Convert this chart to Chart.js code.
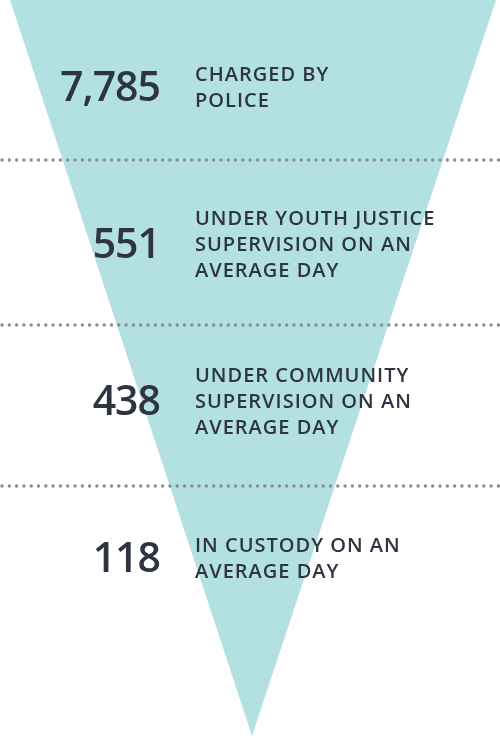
<!DOCTYPE html>
<html>
<head>
<meta charset="utf-8">
<script src="https://cdn.jsdelivr.net/npm/chart.js@4"></script>
<style>
  html, body { margin: 0; padding: 0; background: #fff; }
  #wrap { width: 500px; height: 740px; }
</style>
</head>
<body>
<div id="wrap"><canvas id="funnel"></canvas></div>
<script>
// ---- Data ----
const stageValues = [7785, 551, 438, 118];
const stageLabels = [
  ['CHARGED BY', 'POLICE'],
  ['UNDER YOUTH JUSTICE', 'SUPERVISION ON AN', 'AVERAGE DAY'],
  ['UNDER COMMUNITY', 'SUPERVISION ON AN', 'AVERAGE DAY'],
  ['IN CUSTODY ON AN', 'AVERAGE DAY']
];

// ---- Styles ----
const FILL = '#b3e0e3';
const INK = '#2e3440';
const DOT = '#8c8c8c';

// funnel shape + text drawn in the scale space (x 0..500, y 0..740)
const funnelPlugin = {
  id: 'funnel',
  beforeDatasetsDraw(chart) {
    const { ctx, scales: { x, y } } = chart;
    ctx.save();
    ctx.fillStyle = FILL;
    ctx.beginPath();
    ctx.moveTo(x.getPixelForValue(10), y.getPixelForValue(0));
    ctx.lineTo(x.getPixelForValue(496), y.getPixelForValue(0));
    ctx.lineTo(x.getPixelForValue(252), y.getPixelForValue(736));
    ctx.closePath();
    ctx.fill();
    ctx.restore();
  },
  afterDraw(chart) {
    const { ctx, scales: { x, y } } = chart;
    const rowGap = 157;
    const sepOffset = [72, 80, 84];
    ctx.save();
    stageValues.forEach((v, i) => {
      const cy = 88 + i * rowGap;
      // number
      ctx.fillStyle = INK;
      ctx.font = '600 41px "Open Sans"';
      ctx.textAlign = 'right';
      ctx.textBaseline = 'middle';
      ctx.letterSpacing = '-1px';
      ctx.fillText(v.toLocaleString('en-US'), x.getPixelForValue(160), y.getPixelForValue(cy + 1));
      // label
      const lines = stageLabels[i];
      ctx.font = '600 20px "Open Sans"';
      ctx.textAlign = 'left';
      ctx.letterSpacing = '1px';
      const lh = 26;
      const top = cy - (lines.length - 1) * lh / 2;
      lines.forEach((t, j) => ctx.fillText(t, x.getPixelForValue(195), y.getPixelForValue(top + j * lh)));
      // dotted separator
      if (i < stageValues.length - 1) {
        const sy = y.getPixelForValue(cy + sepOffset[i]);
        ctx.fillStyle = DOT;
        for (let px = 2; px < 500; px += 7.3) {
          ctx.beginPath();
          ctx.arc(x.getPixelForValue(px), sy, 1.7, 0, Math.PI * 2);
          ctx.fill();
        }
      }
    });
    ctx.restore();
  }
};

new Chart(document.getElementById('funnel'), {
  type: 'scatter',
  data: { datasets: [{ data: [], pointRadius: 0 }] },
  options: {
    responsive: true,
    maintainAspectRatio: false,
    animation: false,
    layout: { padding: 0 },
    plugins: { legend: { display: false }, tooltip: { enabled: false } },
    scales: {
      x: { type: 'linear', min: 0, max: 500, display: false },
      y: { type: 'linear', min: 0, max: 740, reverse: true, display: false }
    }
  },
  plugins: [funnelPlugin]
});
</script>
</body>
</html>
